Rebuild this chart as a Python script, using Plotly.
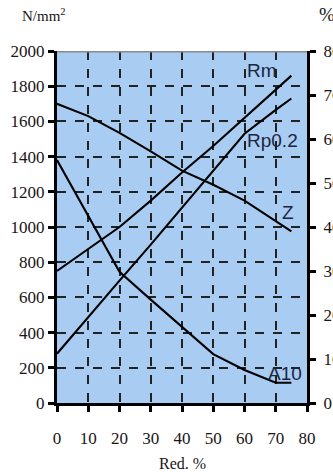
import plotly.graph_objects as go

red = [0, 10, 20, 30, 40, 50, 60, 70, 75]
rm = [750, 875, 1000, 1150, 1310, 1460, 1620, 1785, 1860]
rp02 = [280, 490, 695, 900, 1110, 1320, 1530, 1665, 1730]
z_pct = [68, 65.2, 61.4, 57.2, 52.8, 49.6, 46, 41.4, 39]
a10_pct = [55.2, 42.4, 29.8, 23.5, 17.2, 11.1, 7.5, 4.6, 4.6]

x_ticks = [0, 10, 20, 30, 40, 50, 60, 70, 80]
y_ticks = list(range(0, 2001, 200))
y2_ticks = list(range(0, 81, 10))

line = dict(color="black", width=2.1)
fig = go.Figure()
fig.add_trace(go.Scatter(x=red, y=rm, mode="lines", line=line, name="Rm"))
fig.add_trace(go.Scatter(x=red, y=rp02, mode="lines", line=line, name="Rp0.2"))
fig.add_trace(go.Scatter(x=red, y=z_pct, mode="lines", line=line, name="Z", yaxis="y2"))
fig.add_trace(go.Scatter(x=red, y=a10_pct, mode="lines", line=line, name="A10", yaxis="y2"))

tickfont = dict(family="Liberation Serif, Times New Roman, serif", size=17, color="#1a1414")
labfont = dict(family="Liberation Sans Narrow, Arial Narrow, Liberation Sans, sans-serif", size=19, color="#1c2541")
serif = "Liberation Serif, Times New Roman, serif"

fig.update_layout(
    width=333, height=472,
    margin=dict(l=57, r=26, t=51, b=69),
    paper_bgcolor="white",
    plot_bgcolor="#a9cdf2",
    showlegend=False,
    xaxis=dict(range=[0, 80], tickvals=x_ticks, ticks="outside", ticklen=6, tickwidth=3,
               tickcolor="black", showline=True, linecolor="black", linewidth=3,
               showgrid=True, gridcolor="#222", griddash="dash", gridwidth=1.5,
               tickfont=tickfont, ticklabelstandoff=12, zeroline=False, automargin=False),
    yaxis=dict(range=[0, 2000], tickvals=y_ticks, ticks="outside", ticklen=6, tickwidth=3,
               tickcolor="black", showline=True, linecolor="black", linewidth=3,
               showgrid=True, gridcolor="#222", griddash="dash", gridwidth=1.5,
               tickfont=tickfont, zeroline=False, automargin=False),
    yaxis2=dict(range=[0, 80], tickvals=y2_ticks, overlaying="y", side="right",
                ticks="outside", ticklen=6, tickwidth=3, tickcolor="black",
                showline=True, linecolor="black", linewidth=3, showgrid=False,
                tickfont=tickfont, ticklabelstandoff=4, zeroline=False, automargin=False),
    shapes=[dict(type="line", xref="x", yref="y", x0=0, x1=80, y0=2000, y1=2000,
                 line=dict(color="#8a8a8a", width=3))],
    annotations=[
        dict(text="Rm", x=65.6, y=1892, xref="x", yref="y", showarrow=False, font=labfont),
        dict(text="Rp0.2", x=69.1, y=1494, xref="x", yref="y", showarrow=False, font=labfont),
        dict(text="Z", x=73.9, y=1085, xref="x", yref="y", showarrow=False, font=labfont),
        dict(text="A10", x=73.0, y=170, xref="x", yref="y", showarrow=False, font=labfont),
        dict(text="N/mm<sup>2</sup>", x=-0.052, y=1.102, xref="paper", yref="paper",
             xanchor="center", yanchor="middle", showarrow=False,
             font=dict(family=serif, size=15, color="#1a1414")),
        dict(text="%", x=1.08, y=1.105, xref="paper", yref="paper",
             xanchor="center", yanchor="middle", showarrow=False,
             font=dict(family=serif, size=19, color="#1a1414")),
        dict(text="Red. %", x=0.5, y=-0.172, xref="paper", yref="paper",
             xanchor="center", yanchor="middle", showarrow=False,
             font=dict(family=serif, size=16, color="#1a1414")),
    ],
)

fig.write_html("out.html", config={"displayModeBar": False},
               post_script="document.body.style.margin='0';document.body.style.overflow='hidden';")
